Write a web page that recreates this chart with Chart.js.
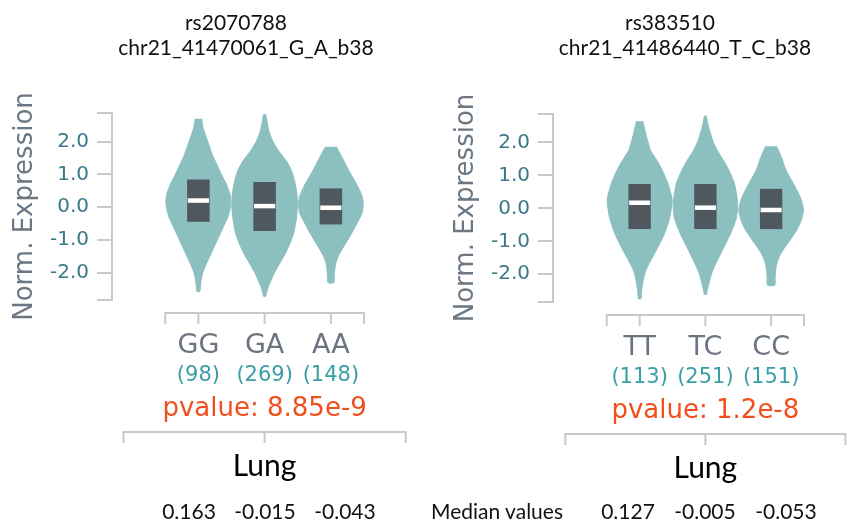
<!DOCTYPE html>
<html>
<head>
<meta charset="utf-8">
<script src="https://cdn.jsdelivr.net/npm/chart.js@4.4.1/dist/chart.umd.min.js"></script>
<style>
  html, body { margin: 0; padding: 0; background: #fff; }
  #page { position: relative; width: 849px; height: 522px; overflow: hidden; font-family: Lato, "Noto Sans", sans-serif; color: #111; }
  .panel { position: absolute; top: 0; }
  .txt { position: absolute; width: 400px; text-align: center; white-space: nowrap; }
</style>
</head>
<body>
<div id="page">
  <canvas id="leftChart" class="panel" width="424" height="522" style="left:0"></canvas>
  <canvas id="rightChart" class="panel" width="425" height="522" style="left:424px"></canvas>
</div>
<script>
// ---- values ----
const leftSnp = ['rs2070788', 'chr21_41470061_G_A_b38'];
const rightSnp = ['rs383510', 'chr21_41486440_T_C_b38'];
const leftGenotypes = ['GG', 'GA', 'AA'];
const rightGenotypes = ['TT', 'TC', 'CC'];
const leftCounts = [98, 269, 148];
const rightCounts = [113, 251, 151];
const leftPvalue = '8.85e-9';
const rightPvalue = '1.2e-8';
const tissue = 'Lung';
const leftMedianValues = [0.163, -0.015, -0.043];
const rightMedianValues = [0.127, -0.005, -0.053];
const yTicks = [-2, -1, 0, 1, 2];

// box plots: lower quartile, upper quartile, median line
const leftQ1 = [-0.45, -0.73, -0.53];
const leftQ3 = [0.84, 0.77, 0.57];
const leftMed = [0.20, 0.03, -0.02];
const rightQ1 = [-0.63, -0.63, -0.63];
const rightQ3 = [0.74, 0.74, 0.59];
const rightMed = [0.17, 0.02, -0.05];

// violin outlines: [expression, half width in genotype units], top to bottom
const violinGG = [[2.70, 0.050], [2.45, 0.068], [2.2, 0.106], [1.9, 0.159], [1.6, 0.211], [1.3, 0.279],
  [1.0, 0.347], [0.7, 0.423], [0.4, 0.476], [0.2, 0.491], [0.0, 0.483], [-0.3, 0.446], [-0.6, 0.378],
  [-0.9, 0.310], [-1.2, 0.242], [-1.5, 0.174], [-1.8, 0.106], [-2.0, 0.068], [-2.2, 0.045], [-2.4, 0.033], [-2.58, 0.023]];
const violinGA = [[2.84, 0.015], [2.6, 0.038], [2.3, 0.068], [2.0, 0.128], [1.7, 0.219], [1.4, 0.332],
  [1.1, 0.408], [0.8, 0.453], [0.4, 0.488], [0.0, 0.495], [-0.4, 0.476], [-0.8, 0.438], [-1.1, 0.385],
  [-1.4, 0.317], [-1.7, 0.234], [-2.0, 0.151], [-2.3, 0.083], [-2.5, 0.045], [-2.73, 0.015]];
const violinAA = [[1.84, 0.083], [1.7, 0.121], [1.5, 0.174], [1.2, 0.249], [0.9, 0.332], [0.6, 0.415],
  [0.3, 0.476], [0.05, 0.488], [-0.2, 0.468], [-0.5, 0.393], [-0.8, 0.314], [-1.1, 0.227], [-1.3, 0.166],
  [-1.5, 0.113], [-1.7, 0.076], [-1.9, 0.060], [-2.1, 0.053], [-2.31, 0.045]];
const violinTT = [[2.64, 0.050], [2.28, 0.091], [2.0, 0.129], [1.77, 0.164], [1.27, 0.316], [0.76, 0.430],
  [0.25, 0.494], [-0.26, 0.460], [-0.76, 0.380], [-1.27, 0.254], [-1.77, 0.119], [-2.0, 0.076],
  [-2.28, 0.046], [-2.5, 0.030], [-2.74, 0.020]];
const violinTC = [[2.81, 0.015], [2.55, 0.038], [2.28, 0.076], [2.0, 0.122], [1.77, 0.178], [1.27, 0.330],
  [0.76, 0.441], [0.15, 0.491], [-0.3, 0.471], [-0.76, 0.384], [-1.27, 0.258], [-1.77, 0.137],
  [-2.0, 0.091], [-2.28, 0.053], [-2.45, 0.033], [-2.61, 0.015]];
const violinCC = [[1.88, 0.084], [1.7, 0.125], [1.5, 0.167], [1.27, 0.205], [1.07, 0.249], [0.8, 0.325],
  [0.56, 0.390], [0.25, 0.460], [-0.05, 0.492], [-0.35, 0.460], [-0.66, 0.390], [-0.9, 0.310],
  [-1.17, 0.213], [-1.4, 0.140], [-1.6, 0.098], [-1.8, 0.075], [-2.05, 0.062], [-2.33, 0.055]];

// ---- styling ----
const violinColor = '#8cbfc0';
const boxColor = '#4f585e';
const axisGrey = '#c9c9c9';
const tickTeal = '#3b7986';
const titleGrey = '#6b7883';
const genoGrey = '#6b7480';
const countTeal = '#3a9ea6';
const pvalRed = '#f04f1e';
const boxHalf = 0.17;

// right side top to bottom, then left side back up
function violinData(center, profile) {
  const right = profile.map(p => ({x: center + p[1], y: p[0]}));
  const left = profile.slice().reverse().map(p => ({x: center - p[1], y: p[0]}));
  return right.concat(left);
}

function buildDatasets(violins, q1, q3, med) {
  const sets = [];
  violins.forEach((profile, i) => {
    const c = i + 1;
    sets.push({
      data: violinData(c, profile),
      backgroundColor: violinColor, borderColor: violinColor, borderWidth: 1,
      fill: 'shape', tension: 0.2, order: 3
    });
    sets.push({
      data: [{x: c - boxHalf, y: q1[i]}, {x: c + boxHalf, y: q1[i]}, {x: c + boxHalf, y: q3[i]}, {x: c - boxHalf, y: q3[i]}],
      backgroundColor: boxColor, borderWidth: 0, fill: 'shape', tension: 0, order: 2
    });
    sets.push({
      data: [{x: c - boxHalf + 0.01, y: med[i]}, {x: c + boxHalf - 0.01, y: med[i]}],
      borderColor: '#ffffff', borderWidth: 4.5, borderCapStyle: 'butt', fill: false, tension: 0, order: 1
    });
  });
  sets.forEach(s => { s.showLine = true; s.pointRadius = 0; s.clip = false; });
  return sets;
}

// genotype bracket, labels, counts, p-value and tissue bracket under each panel
const genoPlugin = {
  id: 'geno',
  afterDraw(chart, args, opts) {
    const ctx = chart.ctx;
    const xs = chart.scales.x;
    const px = v => xs.getPixelForValue(v);
    const n = opts.genotypes.length;
    const mid = (n + 1) / 2;
    const y0 = Math.round(chart.chartArea.bottom + 13);
    const ty = y0 + 119;
    ctx.save();
    ctx.strokeStyle = axisGrey;
    ctx.lineWidth = 2;
    ctx.beginPath();
    ctx.moveTo(px(0.5), y0);
    ctx.lineTo(px(n + 0.5), y0);
    [0.5].concat(opts.genotypes.map((g, i) => i + 1), [n + 0.5]).forEach(v => {
      ctx.moveTo(px(v), y0 - 1);
      ctx.lineTo(px(v), y0 + 11);
    });
    ctx.moveTo(px(mid - 2.13), ty);
    ctx.lineTo(px(mid + 2.13), ty);
    [mid - 2.13, mid, mid + 2.13].forEach(v => {
      ctx.moveTo(px(v), ty - 1);
      ctx.lineTo(px(v), ty + 11);
    });
    ctx.stroke();

    ctx.textAlign = 'center';
    ctx.textBaseline = 'alphabetic';
    ctx.font = '27px "DejaVu Sans"';
    ctx.fillStyle = genoGrey;
    opts.genotypes.forEach((g, i) => ctx.fillText(g, px(i + 1), y0 + 40));
    ctx.font = '21px "DejaVu Sans"';
    ctx.fillStyle = countTeal;
    opts.counts.forEach((c, i) => ctx.fillText('(' + c + ')', px(i + 1), y0 + 68));
    ctx.font = '26px "DejaVu Sans"';
    ctx.fillStyle = pvalRed;
    ctx.fillText('pvalue: ' + opts.pvalue, px(mid), y0 + 103);
    ctx.font = '30px Lato';
    ctx.fillStyle = '#000';
    ctx.fillText(opts.tissue, px(mid), y0 + 163);
    ctx.restore();
  }
};

function makePanel(canvasId, cfg) {
  return new Chart(document.getElementById(canvasId), {
    type: 'scatter',
    data: { datasets: buildDatasets(cfg.violins, cfg.q1, cfg.q3, cfg.med) },
    options: {
      responsive: false,
      animation: false,
      events: [],
      layout: { padding: { top: cfg.top, bottom: cfg.bottom, left: 0, right: cfg.right } },
      plugins: {
        legend: { display: false },
        tooltip: { enabled: false },
        geno: { genotypes: cfg.genotypes, counts: cfg.counts, pvalue: cfg.pvalue, tissue: tissue }
      },
      scales: {
        x: { type: 'linear', display: false, min: cfg.xMin, max: 3.5 },
        y: {
          min: cfg.yMin,
          max: cfg.yMax,
          afterFit: s => { s.width = cfg.axisX; },
          afterBuildTicks: s => { s.ticks = [s.min].concat(yTicks, [s.max]).map(v => ({value: v})); },
          ticks: {
            callback: v => yTicks.includes(v) ? v.toFixed(1) : '',
            color: tickTeal,
            font: { family: 'DejaVu Sans', size: 20 },
            padding: 8
          },
          grid: { drawOnChartArea: false, tickLength: 15, color: axisGrey, lineWidth: 2 },
          border: { display: true, color: axisGrey, width: 2 },
          title: {
            display: true,
            text: 'Norm. Expression',
            color: titleGrey,
            font: { family: 'DejaVu Sans', size: 26 },
            padding: { top: cfg.titlePad, bottom: 0 }
          }
        }
      }
    },
    plugins: [genoPlugin]
  });
}

makePanel('leftChart', {
  violins: [violinGG, violinGA, violinAA], q1: leftQ1, q3: leftQ3, med: leftMed,
  genotypes: leftGenotypes, counts: leftCounts, pvalue: leftPvalue,
  top: 113, bottom: 222, right: 60, axisX: 112, xMin: -0.304, yMin: -2.84, yMax: 2.875, titlePad: 10
});
makePanel('rightChart', {
  violins: [violinTT, violinTC, violinCC], q1: rightQ1, q3: rightQ3, med: rightMed,
  genotypes: rightGenotypes, counts: rightCounts, pvalue: rightPvalue,
  top: 114, bottom: 220, right: 45, axisX: 129, xMin: -0.318, yMin: -2.84, yMax: 2.86, titlePad: 27
});

// titles and the median values row
const page = document.getElementById('page');
function addText(str, cx, cy, size) {
  const d = document.createElement('div');
  d.className = 'txt';
  d.textContent = str;
  d.style.left = (cx - 200) + 'px';
  d.style.top = (cy - size * 0.527) + 'px';
  d.style.fontSize = size + 'px';
  d.style.lineHeight = size + 'px';
  page.appendChild(d);
}
addText(leftSnp[0], 236, 22.5, 21);
addText(leftSnp[1], 246, 47.5, 21);
addText(rightSnp[0], 670, 22.5, 21);
addText(rightSnp[1], 685, 47.5, 21);
[189, 265, 345].forEach((cx, i) => addText(leftMedianValues[i].toFixed(3), cx, 511, 21));
addText('Median values', 497, 511, 21);
[628, 705, 786].forEach((cx, i) => addText(rightMedianValues[i].toFixed(3), cx, 511, 21));
</script>
</body>
</html>
